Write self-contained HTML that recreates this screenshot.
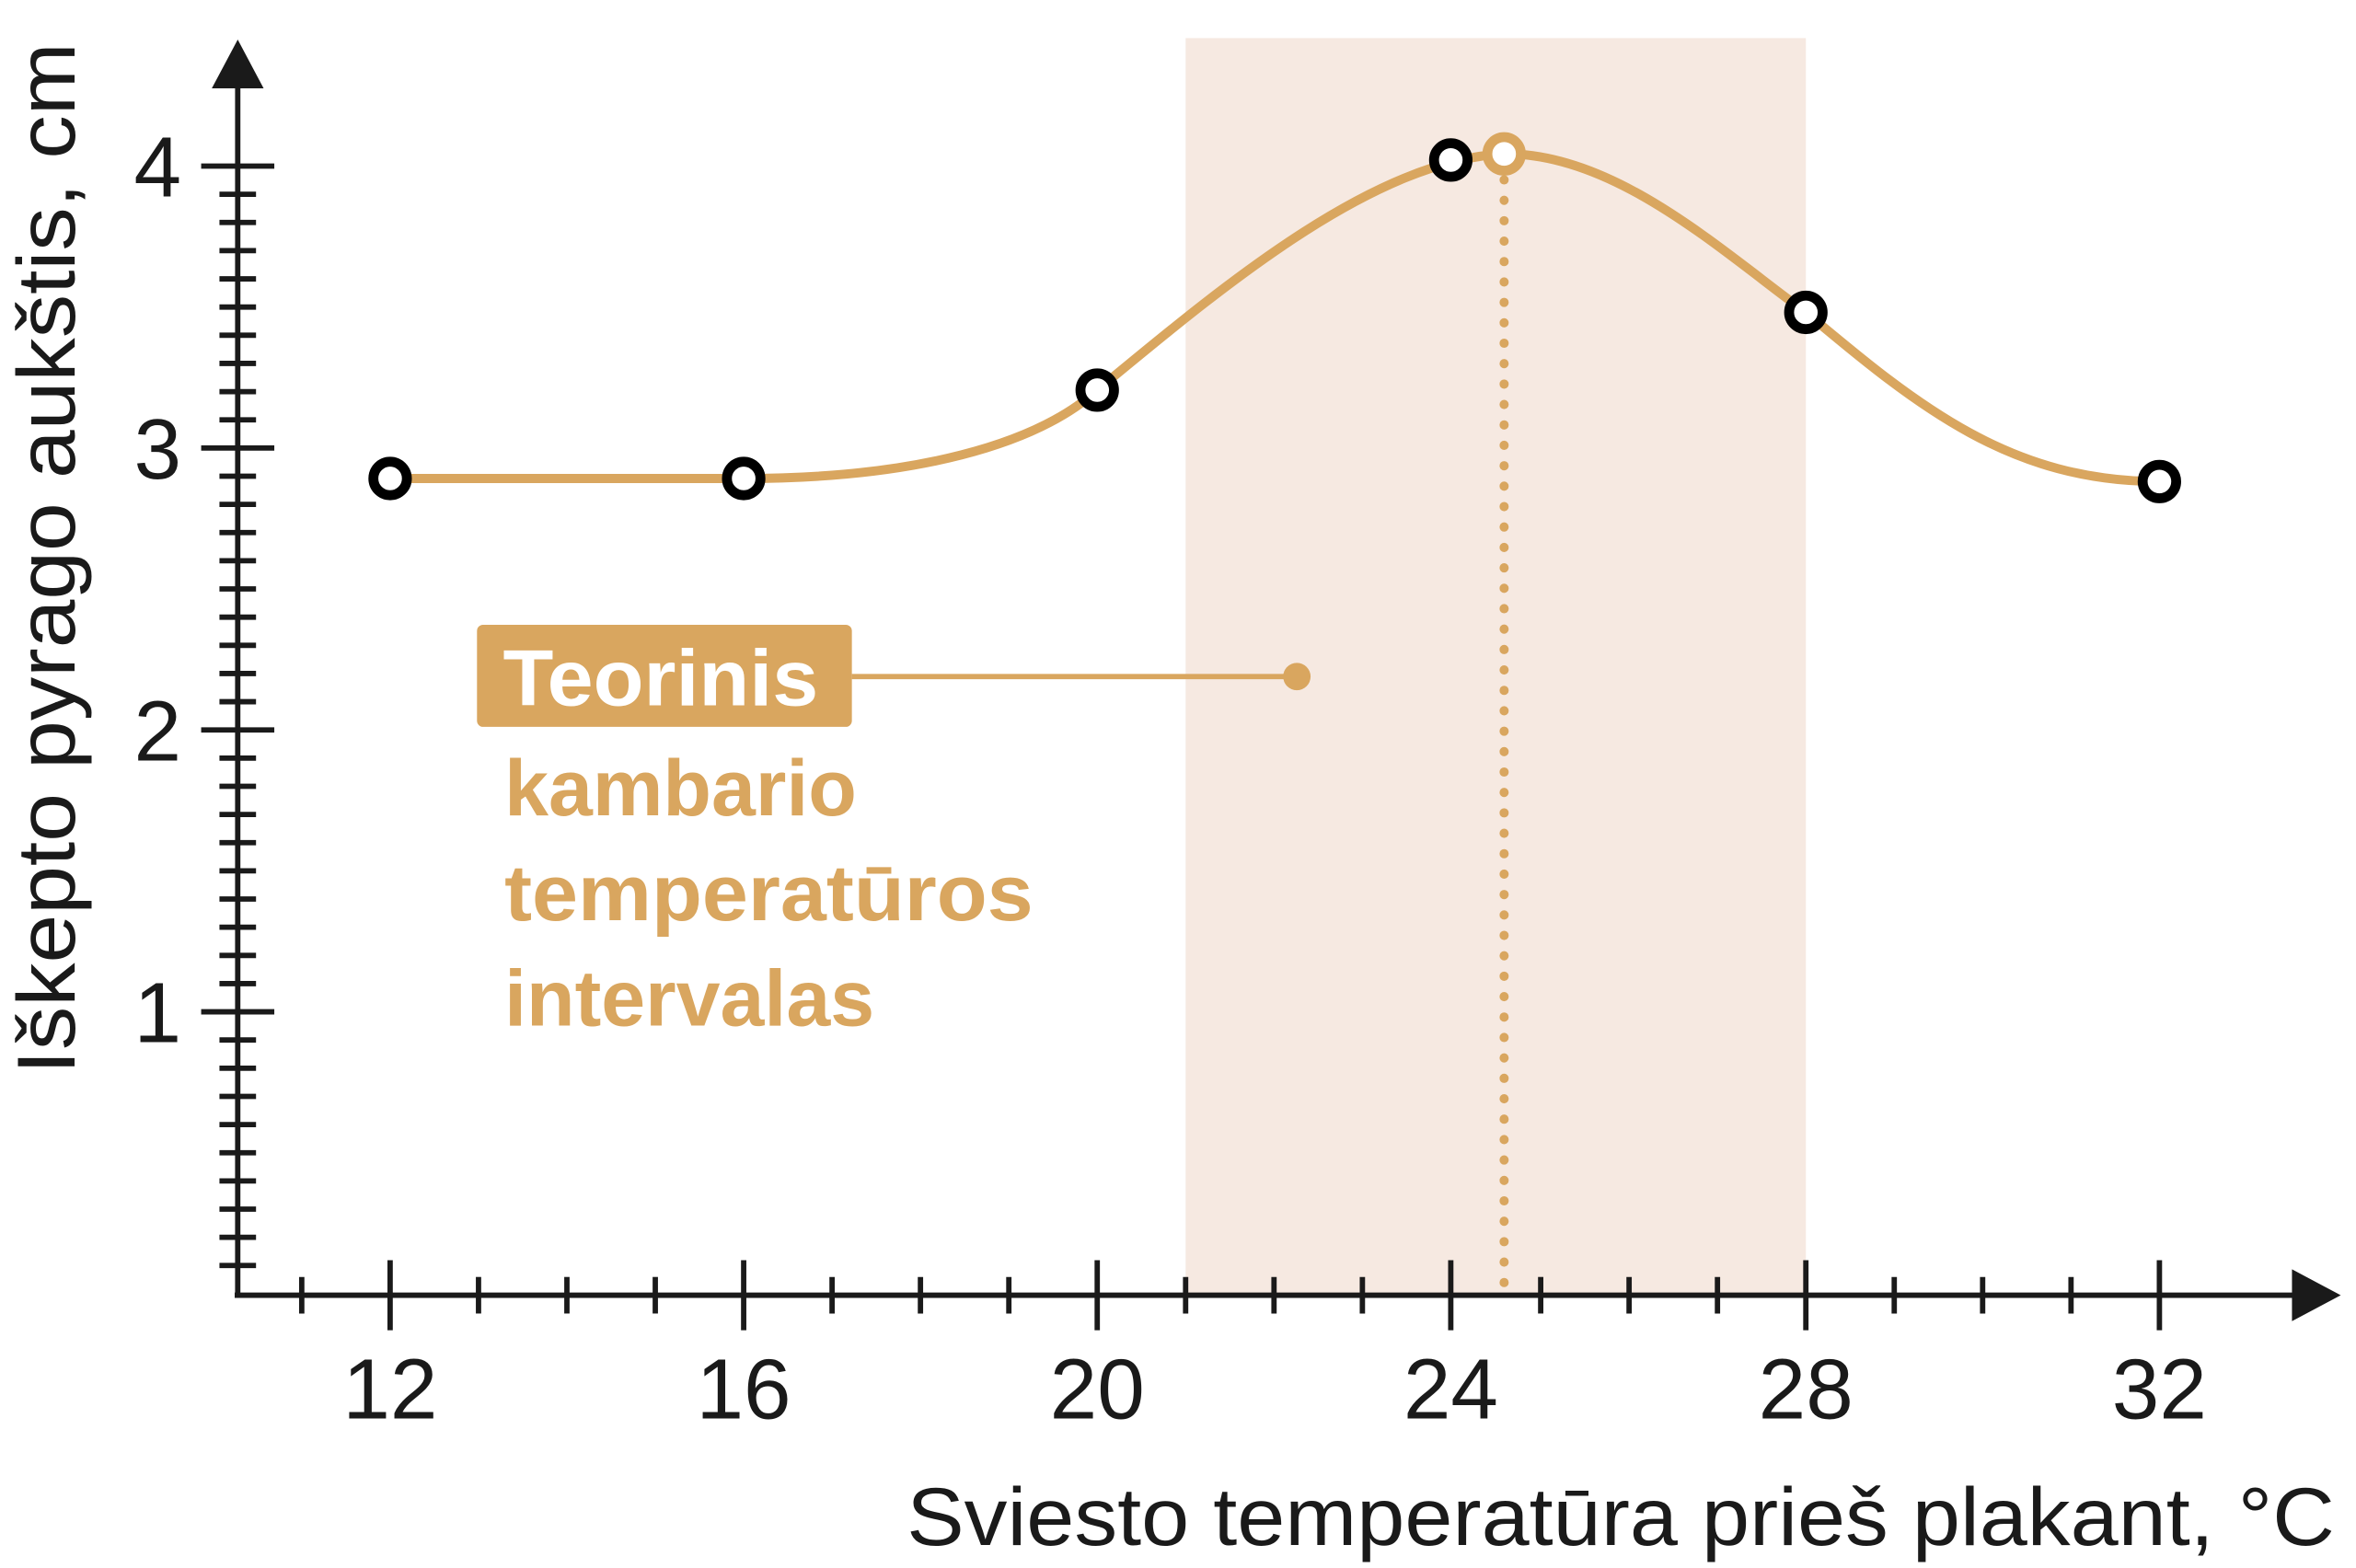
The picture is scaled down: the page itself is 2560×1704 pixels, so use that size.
<!DOCTYPE html>
<html><head><meta charset="utf-8"><style>html,body{margin:0;padding:0;background:#fff}svg{display:block}</style></head>
<body>
<svg width="2560" height="1704" viewBox="0 0 1546 1029" preserveAspectRatio="none" xmlns="http://www.w3.org/2000/svg">
<rect width="1546" height="1029" fill="#fff"/>
<rect x="778" y="25" width="407" height="825" fill="#F6E9E1"/>
<!-- dotted vertical -->
<line x1="987" y1="118" x2="987" y2="846" stroke="#D9A65F" stroke-width="6" stroke-linecap="round" stroke-dasharray="0.1 13.3"/>
<!-- y axis -->
<g stroke="#1a1a1a" stroke-width="3.5">
<line x1="156" y1="50" x2="156" y2="850"/>
<line x1="154" y1="850" x2="1508" y2="850"/>
<g id="ymin">
<line x1="144" x2="168" y1="127.5" y2="127.5"/><line x1="144" x2="168" y1="146" y2="146"/><line x1="144" x2="168" y1="164.5" y2="164.5"/><line x1="144" x2="168" y1="183" y2="183"/><line x1="144" x2="168" y1="201.5" y2="201.5"/><line x1="144" x2="168" y1="220" y2="220"/><line x1="144" x2="168" y1="238.5" y2="238.5"/><line x1="144" x2="168" y1="257" y2="257"/><line x1="144" x2="168" y1="275.5" y2="275.5"/>
<line x1="144" x2="168" y1="312.5" y2="312.5"/><line x1="144" x2="168" y1="331" y2="331"/><line x1="144" x2="168" y1="349.5" y2="349.5"/><line x1="144" x2="168" y1="368" y2="368"/><line x1="144" x2="168" y1="386.5" y2="386.5"/><line x1="144" x2="168" y1="405" y2="405"/><line x1="144" x2="168" y1="423.5" y2="423.5"/><line x1="144" x2="168" y1="442" y2="442"/><line x1="144" x2="168" y1="460.5" y2="460.5"/>
<line x1="144" x2="168" y1="497.5" y2="497.5"/><line x1="144" x2="168" y1="516" y2="516"/><line x1="144" x2="168" y1="534.5" y2="534.5"/><line x1="144" x2="168" y1="553" y2="553"/><line x1="144" x2="168" y1="571.5" y2="571.5"/><line x1="144" x2="168" y1="590" y2="590"/><line x1="144" x2="168" y1="608.5" y2="608.5"/><line x1="144" x2="168" y1="627" y2="627"/><line x1="144" x2="168" y1="645.5" y2="645.5"/>
<line x1="144" x2="168" y1="682.5" y2="682.5"/><line x1="144" x2="168" y1="701" y2="701"/><line x1="144" x2="168" y1="719.5" y2="719.5"/><line x1="144" x2="168" y1="738" y2="738"/><line x1="144" x2="168" y1="756.5" y2="756.5"/><line x1="144" x2="168" y1="775" y2="775"/><line x1="144" x2="168" y1="793.5" y2="793.5"/><line x1="144" x2="168" y1="812" y2="812"/><line x1="144" x2="168" y1="830.5" y2="830.5"/>
</g>
<line x1="132" x2="180" y1="109" y2="109"/><line x1="132" x2="180" y1="294" y2="294"/><line x1="132" x2="180" y1="479" y2="479"/><line x1="132" x2="180" y1="664" y2="664"/>
<!-- x ticks -->
<line x1="198" x2="198" y1="838" y2="862"/><line x1="314" x2="314" y1="838" y2="862"/><line x1="372" x2="372" y1="838" y2="862"/><line x1="430" x2="430" y1="838" y2="862"/>
<line x1="546" x2="546" y1="838" y2="862"/><line x1="604" x2="604" y1="838" y2="862"/><line x1="662" x2="662" y1="838" y2="862"/>
<line x1="778" x2="778" y1="838" y2="862"/><line x1="836" x2="836" y1="838" y2="862"/><line x1="894" x2="894" y1="838" y2="862"/>
<line x1="1011" x2="1011" y1="838" y2="862"/><line x1="1069" x2="1069" y1="838" y2="862"/><line x1="1127" x2="1127" y1="838" y2="862"/>
<line x1="1243" x2="1243" y1="838" y2="862"/><line x1="1301" x2="1301" y1="838" y2="862"/><line x1="1359" x2="1359" y1="838" y2="862"/>
<line x1="256" x2="256" y1="827" y2="873"/><line x1="488" x2="488" y1="827" y2="873"/><line x1="720" x2="720" y1="827" y2="873"/><line x1="952" x2="952" y1="827" y2="873"/><line x1="1185" x2="1185" y1="827" y2="873"/><line x1="1417" x2="1417" y1="827" y2="873"/>
</g>
<polygon points="156,26 139,58 173,58" fill="#1a1a1a"/>
<polygon points="1536,850 1504,833 1504,867" fill="#1a1a1a"/>
<!-- tick labels -->
<g font-family="Liberation Sans, sans-serif" font-size="56" fill="#1a1a1a">
<g text-anchor="end"><text x="119" y="129">4</text><text x="119" y="314">3</text><text x="119" y="499">2</text><text x="119" y="684">1</text></g>
<g text-anchor="middle"><text x="256" y="931">12</text><text x="488" y="931">16</text><text x="720" y="931">20</text><text x="952" y="931">24</text><text x="1185" y="931">28</text><text x="1417" y="931">32</text></g>
<text x="595" y="1014" font-size="54" textLength="937" lengthAdjust="spacingAndGlyphs">Sviesto temperatūra prieš plakant, °C</text>
<text transform="translate(49,705) rotate(-90)" font-size="54" textLength="677" lengthAdjust="spacingAndGlyphs">Iškepto pyrago aukštis, cm</text>
</g>
<!-- curve -->
<path d="M256,314 L488,314 C600,314 680,292 720,256 C800,190 900,105 987,101 C1060,100 1130,165 1185,205 C1260,268 1320,316 1417,316" fill="none" stroke="#D9A65F" stroke-width="6"/>
<!-- points -->
<g fill="#fff" stroke="#000" stroke-width="6.5">
<circle cx="256" cy="314" r="11"/><circle cx="488" cy="314" r="11"/><circle cx="720" cy="256" r="11"/><circle cx="952" cy="105" r="11"/><circle cx="1185" cy="205" r="11"/><circle cx="1417" cy="316" r="11"/>
</g>
<circle cx="987" cy="101" r="11" fill="#fff" stroke="#D9A65F" stroke-width="6.5"/>
<!-- annotation -->
<rect x="313" y="410" width="246" height="67" rx="4" fill="#D9A65F"/>
<line x1="559" y1="444" x2="851" y2="444" stroke="#D9A65F" stroke-width="3.5"/>
<circle cx="851" cy="444" r="9" fill="#D9A65F"/>
<g font-family="Liberation Sans, sans-serif" font-weight="bold" font-size="52">
<text x="330" y="463" fill="#fff" textLength="207" lengthAdjust="spacingAndGlyphs">Teorinis</text>
<g fill="#D9A65F">
<text x="331" y="535">kambario</text>
<text x="331" y="604" textLength="347" lengthAdjust="spacingAndGlyphs">temperatūros</text>
<text x="331" y="673">intervalas</text>
</g>
</g>
</svg>
</body></html>
